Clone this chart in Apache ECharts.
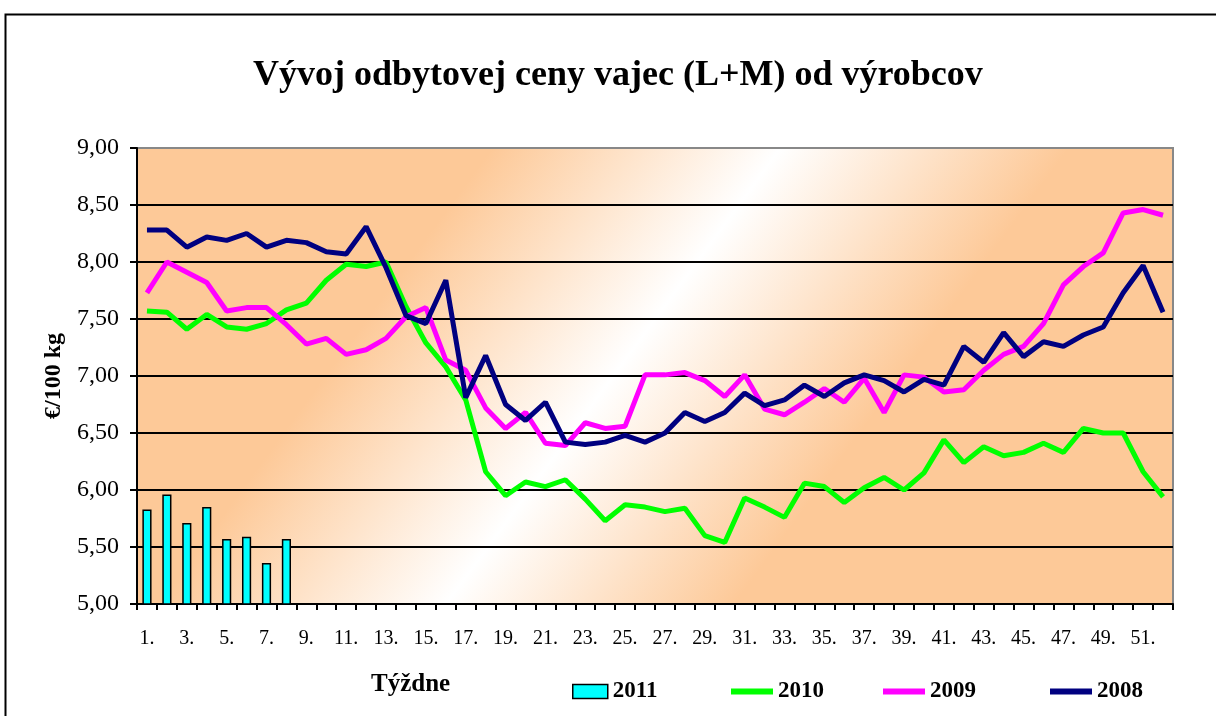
<!DOCTYPE html>
<html>
<head>
<meta charset="utf-8">
<script src="https://cdn.jsdelivr.net/npm/echarts@6/dist/echarts.min.js"></script>
<style>
html,body{margin:0;padding:0;background:#fff;}
#chart{width:1216px;height:716px;}
</style>
</head>
<body>
<div id="chart"></div>
<script>
const titleText = 'Vývoj odbytovej ceny vajec (L+M) od výrobcov';
const yAxisName = '€/100 kg';
const xAxisName = 'Týždne';
const weeks = ['1.','2.','3.','4.','5.','6.','7.','8.','9.','10.','11.','12.','13.','14.','15.','16.','17.','18.','19.','20.','21.','22.','23.','24.','25.','26.','27.','28.','29.','30.','31.','32.','33.','34.','35.','36.','37.','38.','39.','40.','41.','42.','43.','44.','45.','46.','47.','48.','49.','50.','51.','52.'];
const seriesNames = ['2011','2010','2009','2008'];
const seriesColors = ['#00FFFF','#00FF00','#FF00FF','#000080'];
const s2011 = [5.83,5.96,5.71,5.85,5.57,5.59,5.36,5.57];
const s2010 = [7.57,7.56,7.41,7.54,7.43,7.41,7.46,7.58,7.64,7.84,7.98,7.96,8.00,7.61,7.29,7.08,6.79,6.16,5.95,6.07,6.03,6.09,5.92,5.73,5.87,5.85,5.81,5.84,5.60,5.54,5.93,5.85,5.76,6.06,6.03,5.89,6.02,6.11,6.00,6.15,6.44,6.24,6.38,6.30,6.33,6.41,6.33,6.54,6.50,6.50,6.16,5.94];
const s2009 = [7.73,8.00,7.91,7.82,7.57,7.60,7.60,7.45,7.28,7.33,7.19,7.23,7.33,7.52,7.60,7.14,7.05,6.72,6.54,6.68,6.41,6.39,6.59,6.54,6.56,7.01,7.01,7.03,6.96,6.82,7.01,6.71,6.66,6.77,6.89,6.77,6.98,6.68,7.01,6.99,6.86,6.88,7.05,7.19,7.26,7.46,7.80,7.96,8.08,8.43,8.46,8.41];
const s2008 = [8.28,8.28,8.13,8.22,8.19,8.25,8.13,8.19,8.17,8.09,8.07,8.31,7.95,7.53,7.46,7.84,6.81,7.18,6.75,6.61,6.77,6.42,6.40,6.42,6.48,6.42,6.50,6.68,6.60,6.68,6.85,6.74,6.79,6.92,6.82,6.94,7.01,6.96,6.86,6.97,6.92,7.26,7.12,7.38,7.17,7.30,7.26,7.36,7.43,7.73,7.97,7.56];

const FONT = "'Liberation Serif','Times New Roman',serif";
const chart = echarts.init(document.getElementById('chart'));
const orange = '#FDC998';
const legendText = {fontFamily: FONT, fontSize: 23, fontWeight: 'bold', color: '#000'};
function lineLegend(idx, left) {
  return {
    left: left, top: 680, padding: 0, itemWidth: 42, itemHeight: 14, itemGap: 0,
    textStyle: legendText,
    data: [{name: seriesNames[idx], itemStyle: {opacity: 0},
            lineStyle: {width: 6, color: seriesColors[idx], opacity: 1}}]
  };
}
const option = {
  backgroundColor: '#ffffff',
  animation: false,
  title: {
    text: titleText, left: 253, top: 58, padding: 0,
    textStyle: {fontFamily: FONT, fontSize: 36, fontWeight: 'bold', color: '#000'}
  },
  graphic: [
    {type: 'rect', left: 3, top: 12, shape: {x: 0, y: 0, width: 1240, height: 740}, style: {fill: 'none', stroke: '#000', lineWidth: 2}, z: 100},
    {type: 'text', left: 371, top: 672, style: {text: xAxisName, font: "bold 25px 'Liberation Serif','Times New Roman',serif", fill: '#000'}}
  ],
  legend: [
    {
      left: 572, top: 680, padding: 0, itemWidth: 35, itemHeight: 14, itemGap: 0,
      textStyle: legendText,
      data: [{name: seriesNames[0], icon: 'rect', itemStyle: {color: seriesColors[0], borderColor: '#000', borderWidth: 1.5}}]
    },
    lineLegend(1, 728),
    lineLegend(2, 880),
    lineLegend(3, 1047)
  ],
  grid: {
    left: 137, right: 43, top: 148, bottom: 112,
    show: true, borderColor: '#888888', borderWidth: 2,
    backgroundColor: {
      type: 'linear', x: 0, y: 0, x2: 0.86, y2: 1.43,
      colorStops: [
        {offset: 0, color: orange}, {offset: 0.26, color: orange},
        {offset: 0.47, color: '#FFFFFF'},
        {offset: 0.68, color: orange}, {offset: 1, color: orange}
      ]
    }
  },
  xAxis: {
    type: 'category', data: weeks, boundaryGap: true,
    axisLine: {lineStyle: {color: '#000', width: 2}},
    axisTick: {show: true, interval: 0, length: 6, lineStyle: {color: '#000', width: 2}},
    axisLabel: {interval: 1, margin: 25, fontFamily: FONT, fontSize: 20, color: '#000'},
    splitLine: {show: false}
  },
  yAxis: {
    type: 'value', min: 5, max: 9, interval: 0.5,
    name: yAxisName, nameLocation: 'middle', nameGap: 70, nameRotate: 90,
    nameTextStyle: {fontFamily: FONT, fontSize: 24, fontWeight: 'bold', color: '#000'},
    axisLine: {show: true, lineStyle: {color: '#000', width: 2}},
    axisTick: {show: true, length: 7, lineStyle: {color: '#000', width: 2}},
    axisLabel: {margin: 18, fontFamily: FONT, fontSize: 24, color: '#000',
      formatter: v => v.toFixed(2).replace('.', ',')},
    splitLine: {show: true, lineStyle: {color: ['#000','#000','#000','#000','#000','#000','#000','#000','#888888'], width: 2}}
  },
  series: [
    {name: seriesNames[0], type: 'bar', data: s2011, barWidth: '46%',
     itemStyle: {color: seriesColors[0], borderColor: '#000', borderWidth: 1.5}},
    {name: seriesNames[1], type: 'line', data: s2010, symbol: 'none', color: seriesColors[1],
     lineStyle: {color: seriesColors[1], width: 5}},
    {name: seriesNames[2], type: 'line', data: s2009, symbol: 'none', color: seriesColors[2],
     lineStyle: {color: seriesColors[2], width: 5}},
    {name: seriesNames[3], type: 'line', data: s2008, symbol: 'none', color: seriesColors[3],
     lineStyle: {color: seriesColors[3], width: 5}}
  ]
};
chart.setOption(option);
</script>
</body>
</html>
